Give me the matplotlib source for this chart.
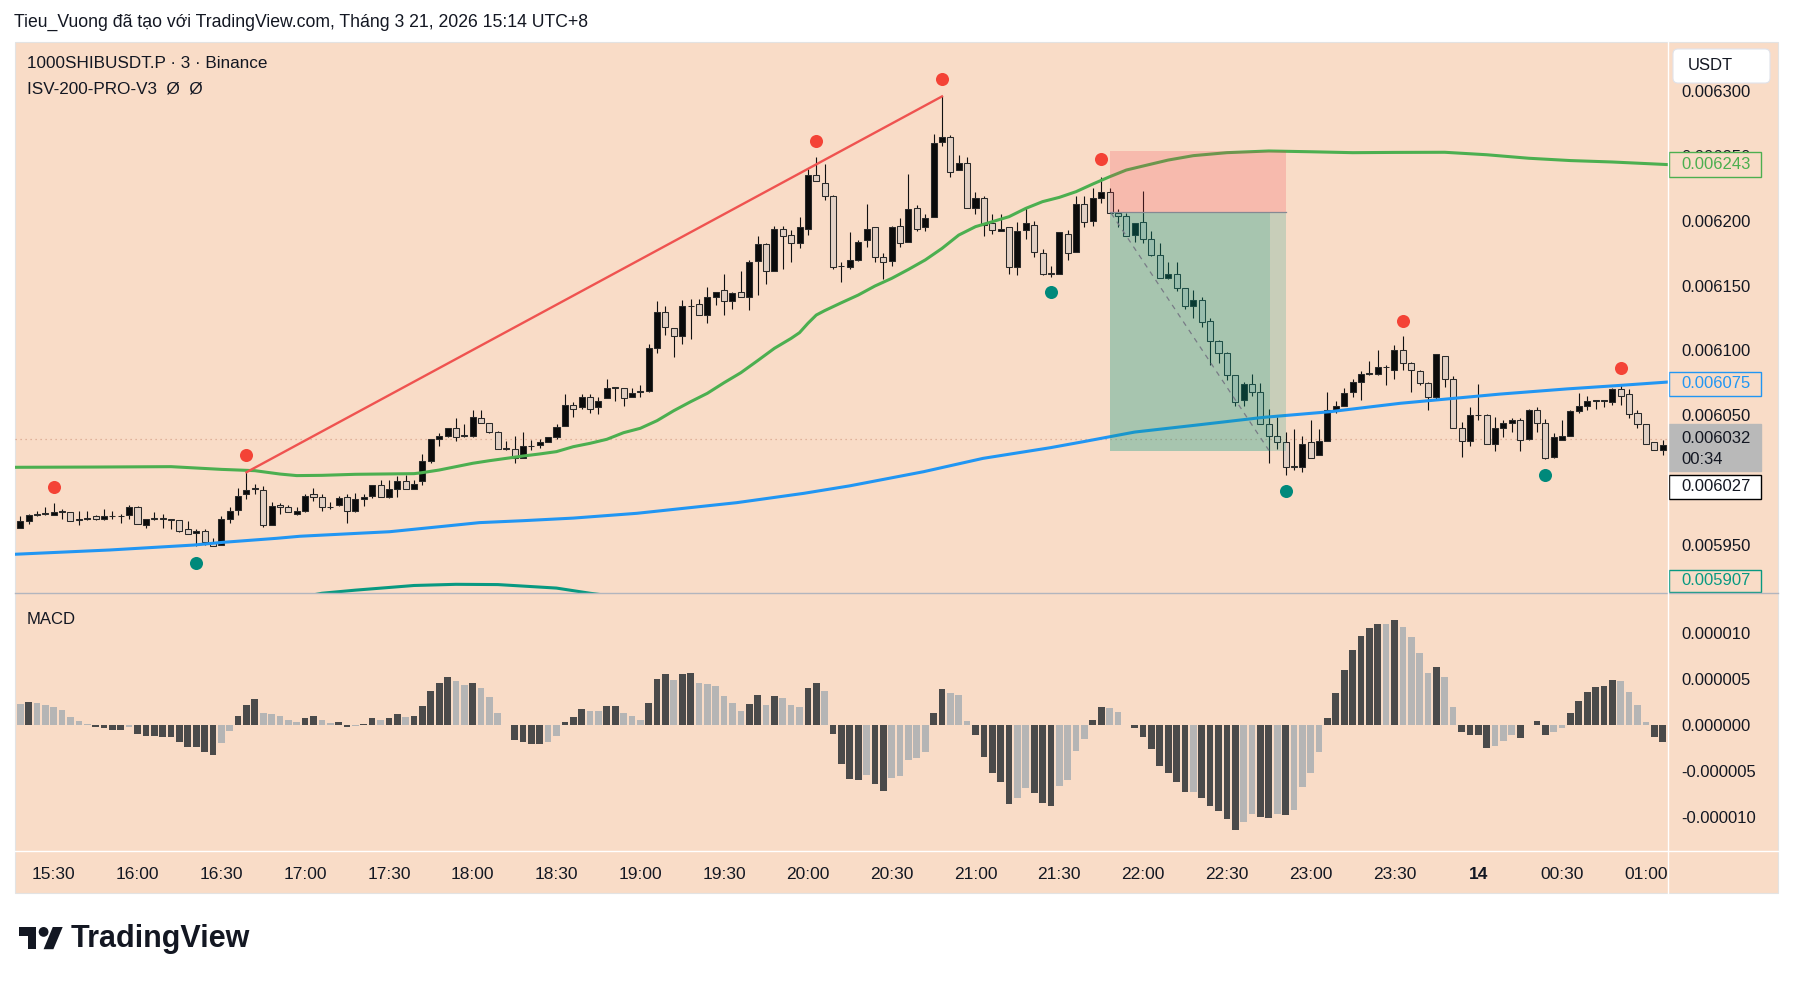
import numpy as np
import matplotlib
matplotlib.use('Agg')
import matplotlib.pyplot as plt
from matplotlib.patches import Rectangle, FancyBboxPatch, Circle, Polygon
from matplotlib.lines import Line2D
from matplotlib.ticker import FormatStrFormatter

ANCHO, ALTO, DPI = 1793, 983, 100
FONDO = '#f9dcc7'
TINTA = '#131722'
U = 1e-6   # los precios estan anotados en millonesimas de USDT

# velas de 3 minutos, el indice 0 es la vela de las 15:30
indices = list(range(-4, 193))

apertura = [5963, 5968, 5973, 5974, 5973, 5975, 5975, 5969, 5970, 5972, 5970, 5972, 5972, 5973,
            5979, 5965, 5970, 5970, 5970, 5969, 5962, 5959, 5961, 5952,
            5950, 5970, 5977, 5989, 5993, 5992, 5965, 5981, 5979, 5974,
            5976, 5989, 5987, 5979, 5981, 5987, 5976, 5985, 5988, 5996,
            5987, 5993, 5999, 5993, 5999, 6015, 6032, 6034, 6040, 6034,
            6034, 6048, 6044, 6037, 6024, 6024, 6017, 6026, 6027, 6029,
            6033, 6042, 6058, 6056, 6064, 6056, 6063, 6071, 6071, 6064,
            6068, 6069, 6102, 6130, 6117, 6111, 6134, 6136, 6127, 6141,
            6147, 6138, 6145, 6141, 6169, 6182, 6161, 6194, 6189, 6183,
            6194, 6235, 6229, 6219, 6165, 6164, 6170, 6185, 6195, 6172,
            6169, 6196, 6184, 6210, 6195, 6203, 6261, 6265, 6239, 6245,
            6210, 6218, 6198, 6192, 6195, 6164, 6193, 6197, 6175, 6159,
            6159, 6190, 6176, 6213, 6200, 6218, 6222, 6206, 6204, 6189,
            6199, 6186, 6174, 6156, 6159, 6148, 6134, 6139, 6123, 6107,
            6098, 6081, 6062, 6074, 6068, 6043, 6034, 6029, 6010, 6010,
            6029, 6019, 6030, 6053, 6057, 6068, 6076, 6082, 6082, 6087,
            6085, 6100, 6090, 6084, 6075, 6064, 6096, 6078, 6040, 6030,
            6050, 6050, 6028, 6040, 6044, 6046, 6032, 6054, 6044, 6018,
            6031, 6034, 6053, 6057, 6061, 6061, 6060, 6070, 6066, 6052,
            6043, 6029, 6023]

maximo = [5972, 5974, 5976, 5979, 5982, 5978, 5975, 5976, 5976, 5973, 5978, 5976, 5974, 5981,
          5980, 5970, 5975, 5974, 5970, 5969, 5968, 5962, 5962, 5955,
          5972, 5979, 5994, 6006, 5997, 5995, 5983, 5982, 5981, 5979,
          5989, 5994, 5989, 5983, 5988, 5989, 5990, 5989, 5996, 6000,
          6000, 6003, 6004, 6000, 6020, 6032, 6036, 6040, 6048, 6043,
          6054, 6054, 6044, 6038, 6030, 6034, 6037, 6031, 6032, 6033,
          6043, 6066, 6060, 6066, 6066, 6064, 6078, 6071, 6071, 6071,
          6073, 6105, 6138, 6134, 6117, 6139, 6140, 6140, 6149, 6145,
          6159, 6145, 6161, 6170, 6188, 6183, 6196, 6196, 6193, 6203,
          6240, 6249, 6244, 6220, 6168, 6191, 6185, 6213, 6195, 6175,
          6196, 6202, 6236, 6212, 6205, 6267, 6296, 6266, 6251, 6249,
          6222, 6219, 6205, 6205, 6195, 6199, 6211, 6200, 6178, 6165,
          6191, 6193, 6219, 6219, 6225, 6234, 6225, 6209, 6206, 6198,
          6223, 6192, 6183, 6168, 6168, 6148, 6147, 6141, 6125, 6108,
          6099, 6081, 6076, 6082, 6075, 6055, 6049, 6037, 6039, 6034,
          6046, 6039, 6068, 6061, 6071, 6078, 6084, 6092, 6100, 6089,
          6104, 6111, 6091, 6085, 6076, 6097, 6096, 6080, 6045, 6056,
          6074, 6051, 6049, 6046, 6048, 6048, 6055, 6056, 6047, 6036,
          6046, 6054, 6067, 6065, 6062, 6062, 6071, 6074, 6070, 6054,
          6043, 6029, 6031]

minimo = [5963, 5966, 5972, 5973, 5973, 5970, 5968, 5965, 5969, 5969, 5969, 5970, 5967, 5970,
          5966, 5963, 5969, 5963, 5962, 5960, 5958, 5949, 5950, 5949,
          5950, 5967, 5973, 5985, 5989, 5964, 5965, 5974, 5975, 5973,
          5975, 5984, 5976, 5978, 5980, 5967, 5975, 5980, 5986, 5987,
          5986, 5987, 5993, 5993, 5996, 6013, 6026, 6033, 6030, 6033,
          6033, 6044, 6036, 6024, 6023, 6013, 6017, 6023, 6025, 6029,
          6032, 6042, 6049, 6055, 6052, 6051, 6063, 6061, 6057, 6064,
          6064, 6068, 6098, 6112, 6095, 6105, 6109, 6127, 6121, 6135,
          6127, 6132, 6141, 6131, 6143, 6151, 6161, 6163, 6168, 6179,
          6189, 6231, 6216, 6163, 6153, 6163, 6169, 6180, 6168, 6155,
          6165, 6180, 6184, 6192, 6192, 6203, 6258, 6234, 6239, 6210,
          6205, 6188, 6190, 6192, 6159, 6158, 6186, 6172, 6158, 6157,
          6159, 6170, 6176, 6195, 6196, 6214, 6206, 6195, 6188, 6184,
          6183, 6173, 6156, 6155, 6146, 6132, 6125, 6118, 6089, 6090,
          6077, 6057, 6057, 6065, 6043, 6013, 6024, 6004, 6008, 6006,
          6017, 6019, 6030, 6052, 6057, 6064, 6062, 6081, 6081, 6073,
          6078, 6085, 6068, 6073, 6054, 6062, 6072, 6040, 6018, 6026,
          6046, 6028, 6022, 6033, 6037, 6022, 6031, 6037, 6016, 6017,
          6031, 6034, 6052, 6054, 6055, 6056, 6058, 6058, 6048, 6040,
          6028, 6023, 6019]

cierre = [5968, 5973, 5974, 5974, 5975, 5976, 5968, 5970, 5970, 5970, 5972, 5972, 5972, 5979,
          5966, 5970, 5970, 5970, 5969, 5961, 5958, 5961, 5952, 5949,
          5970, 5976, 5988, 5992, 5993, 5965, 5980, 5979, 5975, 5976,
          5988, 5987, 5979, 5979, 5986, 5976, 5985, 5987, 5996, 5987,
          5993, 5999, 5993, 5997, 6015, 6032, 6034, 6040, 6033, 6034,
          6049, 6044, 6037, 6024, 6024, 6017, 6026, 6026, 6029, 6033,
          6041, 6058, 6055, 6064, 6055, 6061, 6071, 6071, 6063, 6067,
          6068, 6102, 6130, 6118, 6111, 6134, 6134, 6127, 6141, 6145,
          6138, 6144, 6141, 6168, 6182, 6161, 6194, 6188, 6183, 6195,
          6235, 6231, 6219, 6164, 6165, 6170, 6184, 6194, 6172, 6168,
          6195, 6183, 6209, 6194, 6202, 6260, 6265, 6238, 6245, 6210,
          6218, 6197, 6193, 6194, 6164, 6192, 6198, 6176, 6159, 6159,
          6191, 6175, 6213, 6199, 6218, 6222, 6206, 6204, 6188, 6198,
          6186, 6174, 6156, 6159, 6148, 6134, 6139, 6122, 6107, 6098,
          6081, 6060, 6074, 6068, 6043, 6034, 6029, 6010, 6010, 6028,
          6017, 6030, 6054, 6057, 6067, 6076, 6082, 6082, 6087, 6087,
          6100, 6090, 6085, 6075, 6064, 6097, 6078, 6040, 6030, 6050,
          6050, 6028, 6040, 6044, 6046, 6031, 6054, 6044, 6017, 6033,
          6034, 6053, 6057, 6061, 6061, 6061, 6070, 6065, 6051, 6043,
          6028, 6023, 6027]

# histograma MACD (millonesimas) y tono de cada barra: D oscuro, L claro
macd = [2.27, 2.45, 2.35, 2.17, 1.91, 1.62, 0.87, 0.43, 0.11, -0.25,
        -0.40, -0.51, -0.61, -0.29, -0.97, -1.19, -1.26, -1.37, -1.37, -1.91,
        -2.45, -2.45, -3.00, -3.32, -2.02, -0.72, 0.97, 2.17, 2.82, 1.30,
        1.19, 0.97, 0.54, 0.32, 0.76, 0.97, 0.54, 0.22, 0.32, -0.29,
        -0.18, 0.11, 0.76, 0.54, 0.76, 1.19, 0.90, 0.97, 2.06, 3.68,
        4.55, 5.20, 4.80, 4.33, 4.55, 4.01, 3.03, 1.30, -0.07, -1.62,
        -1.91, -2.13, -2.13, -1.91, -1.26, 0.32, 0.87, 1.73, 1.52, 1.52,
        2.06, 2.06, 1.30, 0.97, 0.54, 2.38, 4.98, 5.52, 4.87, 5.52,
        5.63, 4.55, 4.44, 4.22, 3.14, 2.38, 1.52, 2.27, 3.25, 2.17,
        3.14, 2.92, 2.17, 1.95, 4.01, 4.55, 3.68, -1.05, -4.23, -5.86,
        -5.97, -5.42, -6.40, -7.16, -5.75, -5.53, -3.80, -3.58, -2.93, 1.27,
        3.87, 3.43, 3.22, 0.40, -1.08, -3.47, -5.21, -6.18, -8.57, -7.92,
        -6.83, -7.38, -8.46, -8.79, -6.62, -5.97, -2.82, -1.52, 0.51, 1.88,
        1.77, 1.37, -0.07, -0.33, -1.30, -2.60, -4.45, -5.21, -6.18, -7.27,
        -7.27, -7.92, -8.79, -9.33, -10.20, -11.39, -10.52, -9.65, -10.01, -10.12,
        -9.65, -9.76, -9.22, -6.72, -5.21, -2.93, 0.72, 3.47, 5.93, 8.10,
        9.62, 10.48, 10.92, 10.92, 11.35, 10.59, 9.51, 7.77, 5.60, 6.25,
        5.17, 1.92, -0.76, -1.08, -1.08, -2.49, -2.28, -1.74, -1.08, -1.41,
        -0.07, 0.40, -1.08, -0.76, -0.33, 1.27, 2.57, 3.54, 4.09, 4.19,
        4.84, 4.74, 3.54, 2.13, 0.29, -1.30, -1.84]
tono_macd = ('LDLLLLLLLD' 'DDDLDDDDDD' 'DDDDLLDDDL' 'LLLLDDLLDD' 'LDDLDDLDDD'
             'DDLLDLLLDD' 'DDDLLDDDLL' 'DDLLLDDDLD' 'DLLLLLLDDL' 'DLLLDDLDDD'
             'DLDDLLLLLD' 'DLLLDDDDDL' 'LDDDLLLLDD' 'LLDDDDDDDD' 'LDDDDDLLDD'
             'LDLLLLDDDD' 'DDDLDLLLLD' 'LLDDDDLLLD' 'DDDLLDDDDD' 'DLLLLDD')

# medias moviles leidas a tramos (indice de vela, precio)
verde_x = [-4.6, 5, 14, 20, 24, 27, 29, 32, 36, 43, 44, 46, 48, 50, 52, 54, 56, 58, 60, 62,
           64, 66, 68, 70, 72, 74, 76, 78, 80, 82, 84, 86, 88, 89, 90, 91, 92, 94, 96, 98,
           100, 102, 104, 106, 108, 110, 112, 114, 116, 118, 120, 122, 124, 126, 128, 130,
           133, 136, 140, 145, 150, 155, 160, 166, 171, 176, 181, 186, 192.6]
verde_y = [6009.8, 6010.0, 6010.3, 6008.2, 6007.2, 6004.6, 6003.4, 6003.6, 6004.4, 6004.9,
           6005.7, 6007.7, 6010.3, 6012.9, 6014.9, 6016.7, 6018.5, 6020.1, 6021.9, 6025.7,
           6028.3, 6031.4, 6036.5, 6039.9, 6045.8, 6053.5, 6060.4, 6066.9, 6075.1, 6082.8,
           6092.1, 6101.6, 6109.3, 6113.7, 6120.9, 6127.3, 6130.7, 6136.8, 6142.7, 6149.7,
           6155.6, 6162.5, 6169.8, 6178.7, 6189.0, 6195.5, 6199.3, 6203.2, 6209.6, 6214.8,
           6218.1, 6222.5, 6228.4, 6234.0, 6239.2, 6242.3, 6246.9, 6250.3, 6252.6, 6253.9,
           6253.3, 6252.6, 6252.8, 6252.9, 6251.0, 6248.3, 6246.5, 6245.4, 6243.4]
azul_x = [-4.6, 6.7, 16.7, 20.2, 26.6, 29.4, 40.1, 46.1, 50.8, 56, 62, 69.6, 81.5, 89.5,
          95, 103.8, 110.9, 118.9, 122.9, 129, 136.4, 144.3, 152.3, 160.7, 172.6, 180.6,
          186.9, 192.6]
azul_y = [5942.7, 5946.0, 5949.8, 5951.9, 5955.0, 5956.6, 5960.1, 5964.0, 5967.1, 5968.6,
          5970.6, 5974.3, 5982.5, 5989.7, 5995.5, 6006.4, 6016.7, 6024.9, 6029.6, 6037.0,
          6042.4, 6048.3, 6052.7, 6059.2, 6066.3, 6070.3, 6073.0, 6075.6]
teal_x = [-4.6, 15, 25, 32, 36, 43, 48, 53, 60, 64, 72, 90, 120, 150, 175, 192.6]
teal_y = [5880, 5895, 5904, 5912.6, 5915.0, 5918.6, 5919.5, 5919.3, 5916.6, 5912.6,
          5906, 5896, 5890, 5895, 5902, 5907]

# pivotes
pivote_alto_x = [0, 23, 91, 106, 125, 161, 187]
pivote_alto_y = [5994.6, 6019.2, 6261.9, 6309.5, 6247.7, 6122.4, 6086.3]
pivote_bajo_x = [17, 119, 147, 178]
pivote_bajo_y = [5936.3, 6145.4, 5991.8, 6004.2]

# linea de tendencia roja (de maximo a maximo)
tendencia_x = [23, 106]
tendencia_y = [6006, 6296]

# herramienta de posicion corta
pos_inicio, pos_fin, pos_fin_oscuro = 126.05, 147.1, 145.1
pos_entrada, pos_stop, pos_objetivo = 6206.5, 6253.8, 6022.4
trayecto_x = [126.2, 145.0]
trayecto_y = [6205.8, 6023.0]

ultimo_precio = 6032

horas = ['15:30', '16:00', '16:30', '17:00', '17:30', '18:00', '18:30', '19:00', '19:30',
         '20:00', '20:30', '21:00', '21:30', '22:00', '22:30', '23:00', '23:30', '14',
         '00:30', '01:00']
horas_pos = list(range(0, 200, 10))

# 0.006000 queda tapado por las etiquetas de precio, no se dibuja
precio_ticks = [0.0059, 0.00595, 0.00605, 0.0061, 0.00615, 0.0062, 0.00625, 0.0063]
macd_ticks = [-1e-5, -5e-6, 0.0, 5e-6, 1e-5]

PRECIO_MIN, PRECIO_MAX = 5912.8, 6338.0
MACD_MIN, MACD_MAX = -13.69, 14.30


def px(x, y):
    '''Pixel de la imagen (origen arriba a la izquierda) a fraccion de figura.'''
    return x / ANCHO, 1 - y / ALTO


def pulg(x, y):
    '''Pixel de la imagen a pulgadas para fig.dpi_scale_trans.'''
    return x / DPI, (ALTO - y) / DPI


def dibujar_velas(ax):
    x = np.array(indices)
    o = np.array(apertura) * U
    h = np.array(maximo) * U
    l = np.array(minimo) * U
    c = np.array(cierre) * U
    ax.vlines(x, l, h, color='#111111', lw=0.8, zorder=3)
    base = np.minimum(o, c)
    alto = np.maximum(np.abs(c - o), 0.5 * U)
    relleno = ['#0b0b0b' if ci >= oi else '#e2d0c4' for oi, ci in zip(o, c)]
    ax.bar(x, alto, bottom=base, width=0.72, color=relleno, edgecolor='#2a2a2a',
           linewidth=0.75, zorder=4)


def dibujar_indicadores(ax):
    ax.axhline(ultimo_precio * U, color='#d9a48c', lw=0.9, ls=(0, (1, 3)), zorder=2)
    ax.plot(teal_x, np.array(teal_y) * U, color='#089981', lw=2.2, zorder=5)
    ax.plot(azul_x, np.array(azul_y) * U, color='#2196f3', lw=2.2, zorder=5)
    ax.plot(verde_x, np.array(verde_y) * U, color='#4caf50', lw=2.2, zorder=5)
    ax.plot(tendencia_x, np.array(tendencia_y) * U, color='#ef5350', lw=1.7, zorder=5)
    ax.plot(pivote_alto_x, np.array(pivote_alto_y) * U, 'o', color='#f44336', ms=9.4,
            mec='none', zorder=6)
    ax.plot(pivote_bajo_x, np.array(pivote_bajo_y) * U, 'o', color='#00897b', ms=9.4,
            mec='none', zorder=6)


def dibujar_posicion(ax):
    ancho = pos_fin - pos_inicio
    ax.add_patch(Rectangle((pos_inicio, pos_entrada * U), ancho, (pos_stop - pos_entrada) * U,
                           fc='#f23645', alpha=0.2, lw=0, zorder=5))
    ax.add_patch(Rectangle((pos_inicio, pos_objetivo * U), ancho,
                           (pos_entrada - pos_objetivo) * U,
                           fc='#089981', alpha=0.2, lw=0, zorder=5))
    ax.add_patch(Rectangle((pos_inicio, pos_objetivo * U), pos_fin_oscuro - pos_inicio,
                           (pos_entrada - pos_objetivo) * U,
                           fc='#089981', alpha=0.17, lw=0, zorder=5))
    ax.plot([pos_inicio, pos_fin], [pos_entrada * U] * 2, color='#868993', lw=0.9, zorder=6)
    ax.plot(trayecto_x, np.array(trayecto_y) * U, color='#787b86', lw=0.9,
            ls=(0, (4, 4)), zorder=6)


def etiqueta(ax, abajo, arriba, textos, fondo, borde, color):
    '''Caja de precio sobre la escala de la derecha.'''
    ax.add_patch(Rectangle((1, abajo * U), 92, (arriba - abajo) * U, fc=fondo,
                           ec=borde, lw=1.0, clip_on=False, zorder=3))
    for valor, txt in textos:
        ax.text(13, valor * U, txt, color=color, va='center', ha='left', fontsize=12,
                zorder=4)


def escala_precios(fig, ax_p):
    ax_e = fig.add_axes([*px(1668, 593), 110 / ANCHO, 551 / ALTO])
    ax_e.set_xlim(0, 110)
    ax_e.set_ylim(PRECIO_MIN * U, PRECIO_MAX * U)
    ax_e.axis('off')
    etiqueta(ax_e, 6233.8, 6253.0, [(6243.4, '0.006243')], FONDO, '#4caf50', '#4caf50')
    etiqueta(ax_e, 6065.1, 6083.6, [(6074.4, '0.006075')], FONDO, '#2196f3', '#2196f3')
    etiqueta(ax_e, 6006.9, 6043.2, [(6032.2, '0.006032'), (6016.0, '00:34')],
             '#b9b9b9', '#b9b9b9', TINTA)
    etiqueta(ax_e, 5985.7, 6004.2, [(5995.0, '0.006027')], 'white', '#000000', TINTA)
    etiqueta(ax_e, 5913.6, 5930.9, [(5922.3, '0.005907')], FONDO, '#089981', '#089981')


def dibujar_macd(ax):
    colores = ['#4a4a4a' if t == 'D' else '#b5b5b5' for t in tono_macd]
    ax.bar(indices, np.array(macd) * U, width=0.8, color=colores, lw=0, zorder=3)
    ax.set_ylim(MACD_MIN * U, MACD_MAX * U)
    ax.yaxis.tick_right()
    ax.set_yticks(macd_ticks)
    ax.yaxis.set_major_formatter(FormatStrFormatter('%.6f'))
    ax.tick_params(axis='y', length=0, pad=9.4, labelsize=12, labelcolor=TINTA)
    ax.set_xticks(horas_pos, horas)
    ax.tick_params(axis='x', length=0, pad=11.5, labelsize=12.5, labelcolor=TINTA)
    for t in ax.get_xticklabels():
        if t.get_text() == '14':
            t.set_fontweight('bold')


def marco(fig):
    fig.add_artist(Rectangle(px(15, 893), 1763 / ANCHO, 851 / ALTO, transform=fig.transFigure,
                             fc=FONDO, ec='#e3e3e3', lw=0.8, zorder=-10))
    x0, _ = px(15, 0)
    x1, _ = px(1778, 0)
    fig.add_artist(Line2D([x0, x1], [px(0, 593)[1]] * 2, color='#b2b5be', lw=1.0, zorder=1))
    fig.add_artist(Line2D([x0, x1], [px(0, 851)[1]] * 2, color='#ffffff', lw=1.0, zorder=1))
    fig.add_artist(Line2D([px(1668, 0)[0]] * 2, [px(0, 42)[1], px(0, 893)[1]],
                          color='#ffffff', lw=1.0, zorder=1))


def textos(fig):
    fig.text(*px(14, 22), 'Tieu_Vuong đã tạo với TradingView.com, Tháng 3 21, 2026 15:14 UTC+8',
             fontsize=12.7, color=TINTA, va='center')
    fig.text(*px(27, 64), '1000SHIBUSDT.P · 3 · Binance', fontsize=12.3, color=TINTA,
             va='center')
    fig.text(*px(27, 89), 'ISV-200-PRO-V3  Ø  Ø', fontsize=12.3, color=TINTA, va='center')
    fig.text(*px(27, 619), 'MACD', fontsize=12, color=TINTA, va='center')

    # boton de la moneda
    fig.add_artist(FancyBboxPatch(pulg(1673, 83), 97 / DPI, 34 / DPI,
                                  boxstyle='round,pad=0,rounding_size=0.05',
                                  transform=fig.dpi_scale_trans, fc='white', ec='#e0e3eb',
                                  lw=0.8, zorder=5))
    fig.text(*px(1688, 66), 'USDT', fontsize=12, color=TINTA, va='center', zorder=6)

    # logo de TradingView
    t = [(19, 927), (36.2, 927), (36.2, 949.2), (27.6, 949.2), (27.6, 935.6), (19, 935.6)]
    barra = [(52.8, 927), (62.7, 927), (53.4, 949.2), (43.6, 949.2)]
    fig.add_artist(Polygon([pulg(*p) for p in t], transform=fig.dpi_scale_trans, fc=TINTA,
                           lw=0))
    fig.add_artist(Polygon([pulg(*p) for p in barra], transform=fig.dpi_scale_trans,
                           fc=TINTA, lw=0))
    fig.add_artist(Circle(pulg(43.6, 931.9), 4.9 / DPI, transform=fig.dpi_scale_trans,
                          fc=TINTA, lw=0))
    fig.text(*px(71, 939), 'TradingView', fontsize=22, fontweight='bold', color=TINTA,
             va='center')


def f_principal():
    assert len(apertura) == len(maximo) == len(minimo) == len(cierre) == len(indices)
    assert len(macd) == len(tono_macd) == len(indices)
    plt.rcParams['font.family'] = ['Liberation Sans', 'DejaVu Sans']
    fig = plt.figure(figsize=(ANCHO / DPI, ALTO / DPI), dpi=DPI, facecolor='white')
    marco(fig)

    ax_p = fig.add_axes([*px(15, 593), 1653 / ANCHO, 551 / ALTO])
    ax_m = fig.add_axes([*px(15, 851), 1653 / ANCHO, 258 / ALTO], sharex=ax_p)
    for ax in (ax_p, ax_m):
        ax.set_facecolor('none')
        for s in ax.spines.values():
            s.set_visible(False)

    dibujar_velas(ax_p)
    dibujar_indicadores(ax_p)
    dibujar_posicion(ax_p)
    ax_p.set_xlim(-4.62, 192.64)
    ax_p.yaxis.tick_right()
    ax_p.set_yticks(precio_ticks)
    ax_p.set_ylim(PRECIO_MIN * U, PRECIO_MAX * U)
    ax_p.yaxis.set_major_formatter(FormatStrFormatter('%.6f'))
    ax_p.tick_params(axis='y', length=0, pad=9.4, labelsize=12, labelcolor=TINTA)
    ax_p.tick_params(axis='x', bottom=False, labelbottom=False)

    dibujar_macd(ax_m)
    ax_m.set_xlim(-4.62, 192.64)

    escala_precios(fig, ax_p)
    textos(fig)
    fig.savefig('out.png', dpi=DPI, facecolor='white')


if __name__ == '__main__':
    f_principal()
